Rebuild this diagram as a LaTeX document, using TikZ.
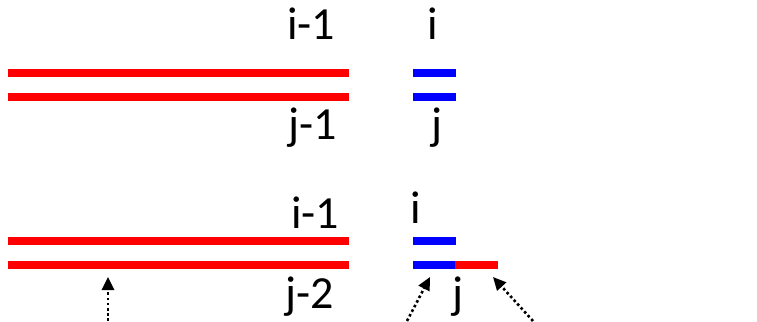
\documentclass[tikz,border=0pt]{standalone}
\usepackage{fontspec}
\setmainfont{Carlito}
\usetikzlibrary{arrows.meta}

\begin{document}
\begin{tikzpicture}[x=1pt, y=-1pt,
    redseg/.style={draw=red, line width=8pt},
    blueseg/.style={draw=blue, line width=8pt},
    lbl/.style={inner sep=0pt, anchor=base west, font=\fontsize{46}{50}\selectfont},
    pointer/.style={dash pattern=on 2.6pt off 2.6pt, line width=2.6pt, -{Triangle[length=13pt, width=12pt]}}]
\useasboundingbox (0,0) rectangle (757,321);

% upper pair
\draw[redseg] (8,72.5) -- (349,72.5);
\draw[redseg] (8,97) -- (349,97);
\draw[blueseg] (413,72.5) -- (456,72.5);
\draw[blueseg] (413,97) -- (456,97);
\node[lbl] (ia) at (287,40) {i-1};
\node[lbl] (ib) at (427,40) {i};
\node[lbl] (ja) at (288,139) {j-1};
\node[lbl] (jb) at (431,139) {j};

% lower pair
\draw[redseg] (8,241) -- (349,241);
\draw[redseg] (8,265) -- (349,265);
\draw[blueseg] (413,241) -- (456,241);
\draw[blueseg] (413,265) -- (455,265);
\draw[redseg] (455,265) -- (498,265);
\node[lbl] (ic) at (291,228) {i-1};
\node[lbl] (id) at (410,223) {i};
\node[lbl] (jc) at (285,308) {j-2};
\node[lbl] (jd) at (452,308) {j};

\coordinate (s1) at (108,321);
\coordinate (t1) at (108,277);
\coordinate (s2) at (407,321);
\coordinate (t2) at (430,277);
\coordinate (s3) at (533,321);
\coordinate (t3) at (493,277);
\draw[pointer] (s1) -- (t1);
\draw[pointer] (s2) -- (t2);
\draw[pointer] (s3) -- (t3);
\end{tikzpicture}
\end{document}
